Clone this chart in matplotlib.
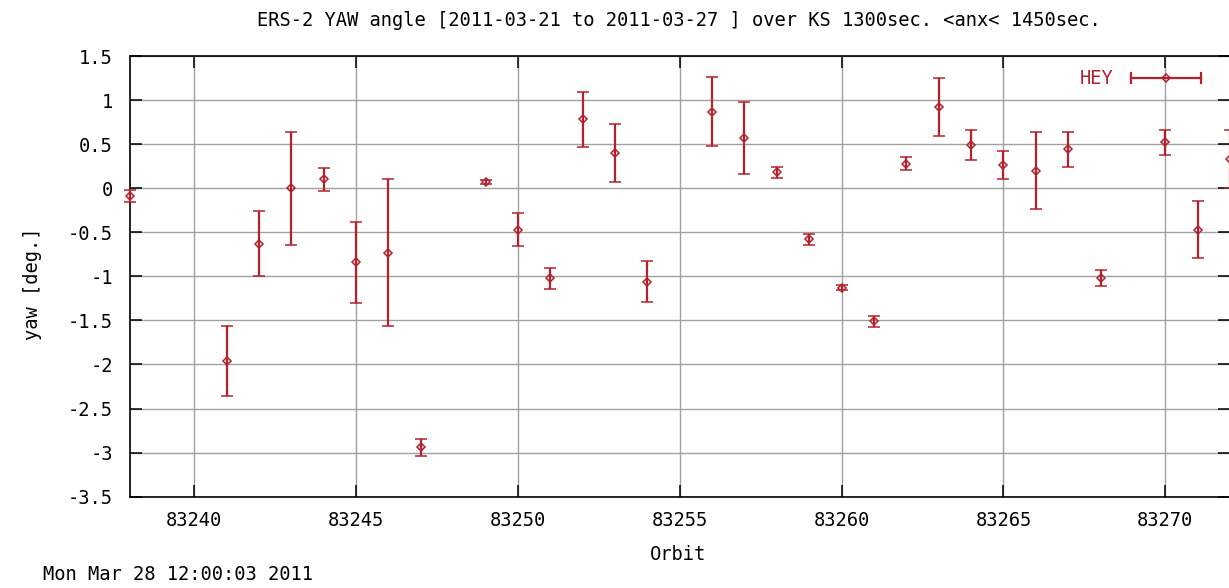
import matplotlib
matplotlib.use("Agg")
import matplotlib.pyplot as plt
from matplotlib.ticker import FixedLocator, FuncFormatter

plt.rcParams['font.family'] = ['DejaVu Sans Mono']
plt.rcParams['axes.unicode_minus'] = False

# yaw per orbit, symmetric error bars
orbits = [83238, 83241, 83242, 83243, 83244, 83245, 83246, 83247, 83249, 83250,
          83251, 83252, 83253, 83254, 83256, 83257, 83258, 83259, 83260, 83261,
          83262, 83263, 83264, 83265, 83266, 83267, 83268, 83270, 83271, 83272]
yaw = [-0.09, -1.96, -0.63, 0.0, 0.10, -0.84, -0.73, -2.94, 0.07, -0.47,
       -1.02, 0.78, 0.40, -1.06, 0.87, 0.57, 0.18, -0.58, -1.13, -1.51,
       0.28, 0.92, 0.49, 0.26, 0.20, 0.44, -1.02, 0.52, -0.47, 0.33]
err = [0.07, 0.40, 0.37, 0.64, 0.13, 0.46, 0.83, 0.10, 0.02, 0.19,
       0.12, 0.31, 0.33, 0.23, 0.39, 0.41, 0.06, 0.06, 0.03, 0.06,
       0.07, 0.33, 0.17, 0.16, 0.44, 0.20, 0.09, 0.145, 0.32, 0.33]

xticks = [83240, 83245, 83250, 83255, 83260, 83265, 83270]
yticks = [-3.5, -3, -2.5, -2, -1.5, -1, -0.5, 0, 0.5, 1, 1.5]

red = '#b4202c'
W, H = 1229, 588

fig = plt.figure(figsize=(12.29, 5.88), dpi=100)
ax = fig.add_axes([129.5 / W, (H - 496.7) / H, 1100.5 / W, 440.7 / H])

ax.errorbar(orbits, yaw, yerr=err, fmt='D', color=red, ms=4.5, mfc='none',
            mew=1.1, elinewidth=1.6, capsize=4.3, capthick=1.6, clip_on=False,
            zorder=3)

ax.set_xlim(83238, 83272)
ax.set_ylim(-3.5, 1.5)
ax.xaxis.set_major_locator(FixedLocator(xticks))
ax.yaxis.set_major_locator(FixedLocator(yticks))
ax.yaxis.set_major_formatter(FuncFormatter(lambda v, p: '%g' % v))
ax.tick_params(direction='in', length=8.6, width=1.1, top=True, right=True,
               labelsize=13.5, colors='black')
ax.tick_params(axis='y', pad=12)
ax.tick_params(axis='x', pad=10)
ax.grid(True, color='#a0a0a0', linewidth=1.0)
ax.set_axisbelow(True)
for s in ax.spines.values():
    s.set_linewidth(1.2)

# key: "HEY" with a horizontal errorbar sample
ly = 0.950
ax.text(0.8937, ly, 'HEY', transform=ax.transAxes, ha='right', va='center',
        color=red, fontsize=13.5)
ax.plot([0.910, 0.9737], [ly, ly], transform=ax.transAxes, color=red, lw=1.6,
        clip_on=False)
for cx in (0.910, 0.9737):
    ax.plot([cx, cx], [ly - 0.0113, ly + 0.0113], transform=ax.transAxes,
            color=red, lw=1.6, clip_on=False)
ax.plot([0.9418], [ly], 'D', transform=ax.transAxes, color=red, ms=4.5,
        mfc='none', mew=1.1, clip_on=False)

fig.text(679 / W, 1 - 21 / H,
         'ERS-2 YAW angle [2011-03-21 to 2011-03-27 ] over KS 1300sec. <anx< 1450sec.',
         ha='center', va='center', fontsize=13.5)
fig.text(33 / W, 1 - 284 / H, 'yaw [deg.]', rotation=90, ha='center',
         va='center', fontsize=13.5)
fig.text(678 / W, 1 - 554 / H, 'Orbit', ha='center', va='center', fontsize=13.5)
fig.text(43 / W, 1 - 575 / H, 'Mon Mar 28 12:00:03 2011', ha='left',
         va='center', fontsize=13.5)

fig.savefig('out.png', dpi=100)
